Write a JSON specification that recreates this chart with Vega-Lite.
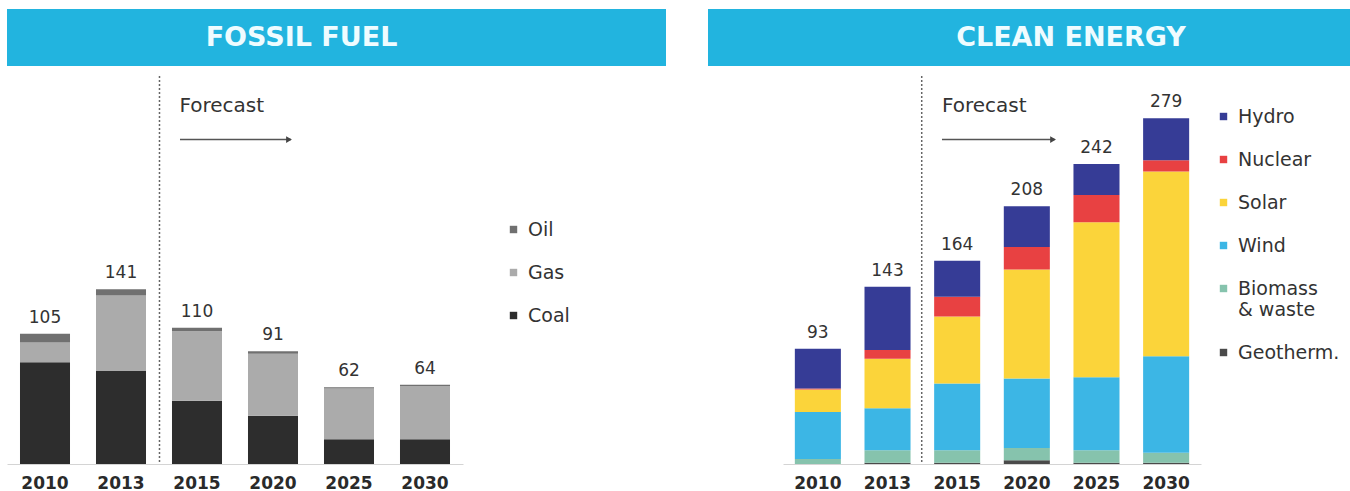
{
  "$schema": "https://vega.github.io/schema/vega-lite/v6.json",
  "padding": {"left": 7, "top": 9, "right": 0, "bottom": 0},
  "background": "white",
  "config": {
    "view": {"stroke": null},
    "font": "DejaVu Sans",
    "axisX": {"labelFont": "DejaVu Sans", "labelFontWeight": "bold", "labelFontSize": 17, "labelColor": "#2a2a2a", "ticks": false, "domainColor": "#d4d4d4", "labelPadding": 11, "title": null, "labelAngle": 0, "grid": false},
    "legend": {"title": null, "symbolType": "square", "symbolSize": 55, "symbolStrokeWidth": 0, "labelFont": "DejaVu Sans", "labelFontSize": 19, "labelColor": "#333333", "labelOffset": 5}
  },
  "datasets": {
    "fossil": [
      {"year": "2010", "source": "Coal", "value": 82}, {"year": "2010", "source": "Gas", "value": 16}, {"year": "2010", "source": "Oil", "value": 7},
      {"year": "2013", "source": "Coal", "value": 75}, {"year": "2013", "source": "Gas", "value": 61}, {"year": "2013", "source": "Oil", "value": 5},
      {"year": "2015", "source": "Coal", "value": 51}, {"year": "2015", "source": "Gas", "value": 56}, {"year": "2015", "source": "Oil", "value": 3},
      {"year": "2020", "source": "Coal", "value": 39}, {"year": "2020", "source": "Gas", "value": 50}, {"year": "2020", "source": "Oil", "value": 2},
      {"year": "2025", "source": "Coal", "value": 20}, {"year": "2025", "source": "Gas", "value": 41}, {"year": "2025", "source": "Oil", "value": 1},
      {"year": "2030", "source": "Coal", "value": 20}, {"year": "2030", "source": "Gas", "value": 43}, {"year": "2030", "source": "Oil", "value": 1}
    ],
    "clean": [
      {"year": "2010", "source": "Geotherm.", "value": 0}, {"year": "2010", "source": "Biomass & waste", "value": 4}, {"year": "2010", "source": "Wind", "value": 38}, {"year": "2010", "source": "Solar", "value": 18}, {"year": "2010", "source": "Nuclear", "value": 1}, {"year": "2010", "source": "Hydro", "value": 32},
      {"year": "2013", "source": "Geotherm.", "value": 1}, {"year": "2013", "source": "Biomass & waste", "value": 10}, {"year": "2013", "source": "Wind", "value": 34}, {"year": "2013", "source": "Solar", "value": 40}, {"year": "2013", "source": "Nuclear", "value": 7}, {"year": "2013", "source": "Hydro", "value": 51},
      {"year": "2015", "source": "Geotherm.", "value": 1}, {"year": "2015", "source": "Biomass & waste", "value": 10}, {"year": "2015", "source": "Wind", "value": 54}, {"year": "2015", "source": "Solar", "value": 54}, {"year": "2015", "source": "Nuclear", "value": 16}, {"year": "2015", "source": "Hydro", "value": 29},
      {"year": "2020", "source": "Geotherm.", "value": 3}, {"year": "2020", "source": "Biomass & waste", "value": 10}, {"year": "2020", "source": "Wind", "value": 56}, {"year": "2020", "source": "Solar", "value": 88}, {"year": "2020", "source": "Nuclear", "value": 18}, {"year": "2020", "source": "Hydro", "value": 33},
      {"year": "2025", "source": "Geotherm.", "value": 1}, {"year": "2025", "source": "Biomass & waste", "value": 10}, {"year": "2025", "source": "Wind", "value": 59}, {"year": "2025", "source": "Solar", "value": 125}, {"year": "2025", "source": "Nuclear", "value": 22}, {"year": "2025", "source": "Hydro", "value": 25},
      {"year": "2030", "source": "Geotherm.", "value": 1}, {"year": "2030", "source": "Biomass & waste", "value": 8}, {"year": "2030", "source": "Wind", "value": 78}, {"year": "2030", "source": "Solar", "value": 149}, {"year": "2030", "source": "Nuclear", "value": 9}, {"year": "2030", "source": "Hydro", "value": 34}
    ]
  },
  "spacing": 9,
  "vconcat": [
    {
      "spacing": 42,
      "hconcat": [
        {
          "width": 659, "height": 57,
          "view": {"fill": "#22b4df", "stroke": null},
          "data": {"values": [{"title": "FOSSIL FUEL"}]},
          "mark": {"type": "text", "color": "#effcff", "fontSize": 27, "fontWeight": "bold", "font": "DejaVu Sans", "dx": -35, "baseline": "middle"},
          "encoding": {"text": {"field": "title"}}
        },
        {
          "width": 642, "height": 57,
          "view": {"fill": "#22b4df", "stroke": null},
          "data": {"values": [{"title": "CLEAN ENERGY"}]},
          "mark": {"type": "text", "color": "#effcff", "fontSize": 27, "fontWeight": "bold", "font": "DejaVu Sans", "dx": 42, "baseline": "middle"},
          "encoding": {"text": {"field": "title"}}
        }
      ]
    },
    {
      "spacing": 320,
      "bounds": "flush",
      "resolve": {"scale": {"color": "independent", "x": "independent", "y": "independent"}, "legend": {"color": "independent"}},
      "hconcat": [
        {
          "width": 456, "height": 388,
          "encoding": {"x": {"field": "year", "type": "ordinal", "scale": {"paddingInner": 0.342, "paddingOuter": 0.171}}},
          "layer": [
            {
              "data": {"name": "fossil"},
              "transform": [{"window": [{"op": "row_number", "as": "stackPos"}], "groupby": ["year"]}],
              "mark": {"type": "bar"},
              "encoding": {
                "y": {"field": "value", "type": "quantitative", "stack": "zero", "scale": {"domain": [0, 313], "nice": false}, "axis": null},
                "order": {"field": "stackPos", "type": "quantitative", "sort": "ascending"},
                "color": {"field": "source", "type": "nominal",
                  "scale": {"domain": ["Oil", "Gas", "Coal"], "range": ["#707070", "#ababab", "#2d2d2d"]},
                  "legend": {"orient": "none", "legendX": 497, "legendY": 144, "rowPadding": 23}}
              }
            },
            {
              "data": {"name": "fossil"},
              "transform": [{"aggregate": [{"op": "sum", "field": "value", "as": "total"}], "groupby": ["year"]}],
              "mark": {"type": "text", "baseline": "alphabetic", "dy": -11, "fontSize": 17, "color": "#333333"},
              "encoding": {"y": {"field": "total", "type": "quantitative", "scale": {"domain": [0, 313], "nice": false}}, "text": {"field": "total", "type": "quantitative"}}
            },
            {
              "data": {"values": [{}]},
              "mark": {"type": "rule", "strokeDash": [2, 2], "color": "#666666", "strokeWidth": 1.5},
              "encoding": {"x": {"datum": "2015", "bandPosition": -0.25}}
            },
            {
              "data": {"values": [{"label": "Forecast"}]},
              "mark": {"type": "text", "align": "left", "baseline": "middle", "fontSize": 20, "color": "#333333"},
              "encoding": {"x": {"datum": "2015", "bandPosition": 0.15}, "y": {"datum": 288.6, "scale": {"domain": [0, 313], "nice": false}}, "text": {"field": "label"}}
            },
            {
              "data": {"values": [{}]},
              "mark": {"type": "rule", "color": "#555555", "strokeWidth": 1.5},
              "encoding": {"x": {"datum": "2015", "bandPosition": 0.16}, "x2": {"datum": "2020", "bandPosition": 0.86}, "y": {"datum": 261.7, "scale": {"domain": [0, 313], "nice": false}}}
            },
            {
              "data": {"values": [{}]},
              "mark": {"type": "point", "shape": "triangle-right", "filled": true, "size": 45, "color": "#444444", "opacity": 1},
              "encoding": {"x": {"datum": "2020", "bandPosition": 0.82}, "y": {"datum": 261.7, "scale": {"domain": [0, 313], "nice": false}}}
            }
          ]
        },
        {
          "width": 418, "height": 388,
          "encoding": {"x": {"field": "year", "type": "ordinal", "scale": {"paddingInner": 0.339, "paddingOuter": 0.17}}},
          "layer": [
            {
              "data": {"name": "clean"},
              "transform": [{"window": [{"op": "row_number", "as": "stackPos"}], "groupby": ["year"]}],
              "mark": {"type": "bar"},
              "encoding": {
                "y": {"field": "value", "type": "quantitative", "stack": "zero", "scale": {"domain": [0, 313], "nice": false}, "axis": null},
                "order": {"field": "stackPos", "type": "quantitative", "sort": "ascending"},
                "color": {"field": "source", "type": "nominal",
                  "scale": {"domain": ["Hydro", "Nuclear", "Solar", "Wind", "Biomass & waste", "Geotherm."], "range": ["#363c96", "#e84142", "#fbd43a", "#3cb6e5", "#86c3ad", "#4a4a4a"]},
                  "legend": {"orient": "none", "legendX": 431, "legendY": 31, "rowPadding": 23,
                    "labelExpr": "datum.label == 'Biomass & waste' ? ['Biomass', '& waste'] : datum.label"}}
              }
            },
            {
              "data": {"name": "clean"},
              "transform": [{"aggregate": [{"op": "sum", "field": "value", "as": "total"}], "groupby": ["year"]}],
              "mark": {"type": "text", "baseline": "alphabetic", "dy": -11, "fontSize": 17, "color": "#333333"},
              "encoding": {"y": {"field": "total", "type": "quantitative", "scale": {"domain": [0, 313], "nice": false}}, "text": {"field": "total", "type": "quantitative"}}
            },
            {
              "data": {"values": [{}]},
              "mark": {"type": "rule", "strokeDash": [2, 2], "color": "#666666", "strokeWidth": 1.5},
              "encoding": {"x": {"datum": "2015", "bandPosition": -0.27}}
            },
            {
              "data": {"values": [{"label": "Forecast"}]},
              "mark": {"type": "text", "align": "left", "baseline": "middle", "fontSize": 20, "color": "#333333"},
              "encoding": {"x": {"datum": "2015", "bandPosition": 0.17}, "y": {"datum": 288.6, "scale": {"domain": [0, 313], "nice": false}}, "text": {"field": "label"}}
            },
            {
              "data": {"values": [{}]},
              "mark": {"type": "rule", "color": "#555555", "strokeWidth": 1.5},
              "encoding": {"x": {"datum": "2015", "bandPosition": 0.17}, "x2": {"datum": "2020", "bandPosition": 1.1}, "y": {"datum": 261.7, "scale": {"domain": [0, 313], "nice": false}}}
            },
            {
              "data": {"values": [{}]},
              "mark": {"type": "point", "shape": "triangle-right", "filled": true, "size": 45, "color": "#444444", "opacity": 1},
              "encoding": {"x": {"datum": "2020", "bandPosition": 1.07}, "y": {"datum": 261.7, "scale": {"domain": [0, 313], "nice": false}}}
            }
          ]
        }
      ]
    }
  ]
}
